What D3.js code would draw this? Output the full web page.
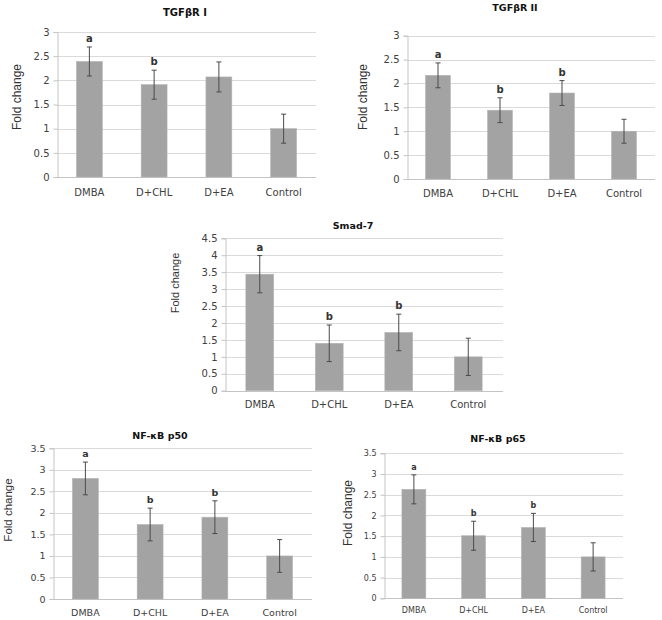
<!DOCTYPE html>
<html>
<head>
<meta charset="utf-8">
<script src="https://cdn.jsdelivr.net/npm/d3@7"></script>
<style>
  html, body { margin: 0; padding: 0; background: #fff; }
  svg { display: block; }
  .tick-lbl { font-family: "DejaVu Sans", Verdana, sans-serif; fill: #404040; }
  .ttl { font-family: "DejaVu Sans", Verdana, sans-serif; font-weight: bold; fill: #111; }
  .ylab { font-family: "Liberation Sans", Arial, sans-serif; fill: #333; }
  .sig { font-family: "DejaVu Sans", Verdana, sans-serif; font-weight: bold; fill: #333; }
</style>
</head>
<body>
<svg id="chart" width="662" height="620"></svg>
<script>
/* five fold-change bar panels */

const categories = ['DMBA', 'D+CHL', 'D+EA', 'Control'];

const tgfr1Values = [2.39, 1.91, 2.07, 1.00];
const tgfr1Errors = [0.30, 0.30, 0.31, 0.30];
const tgfr1Letters = ['a', 'b', '', ''];
const tgfr1Ticks = [0, 0.5, 1, 1.5, 2, 2.5, 3];

const tgfr2Values = [2.17, 1.44, 1.80, 1.00];
const tgfr2Errors = [0.26, 0.26, 0.26, 0.25];
const tgfr2Letters = ['a', 'b', 'b', ''];
const tgfr2Ticks = [0, 0.5, 1, 1.5, 2, 2.5, 3];

const smadValues = [3.44, 1.40, 1.72, 1.00];
const smadErrors = [0.55, 0.54, 0.54, 0.55];
const smadLetters = ['a', 'b', 'b', ''];
const smadTicks = [0, 0.5, 1, 1.5, 2, 2.5, 3, 3.5, 4, 4.5];

const p50Values = [2.80, 1.73, 1.90, 1.00];
const p50Errors = [0.38, 0.38, 0.38, 0.38];
const p50Letters = ['a', 'b', 'b', ''];
const p50Ticks = [0, 0.5, 1, 1.5, 2, 2.5, 3, 3.5];

const p65Values = [2.63, 1.51, 1.71, 1.00];
const p65Errors = [0.35, 0.35, 0.34, 0.34];
const p65Letters = ['a', 'b', 'b', ''];
const p65Ticks = [0, 0.5, 1, 1.5, 2, 2.5, 3, 3.5];

const svg = d3.select('#chart');

function panel(o) {
  const g = svg.append('g');
  const yMax = o.ticks[o.ticks.length - 1];
  const x = d3.scaleBand().domain(categories).range([o.x0, o.x1])
    .paddingInner(0.6).paddingOuter(0.3);
  const y = d3.scaleLinear().domain([0, yMax]).range([o.y0, o.yTop]);

  // grid
  g.selectAll('.grid').data(o.ticks.filter(t => t > 0)).join('line')
    .attr('x1', o.x0).attr('x2', o.x1)
    .attr('y1', t => Math.round(y(t)) + 0.5).attr('y2', t => Math.round(y(t)) + 0.5)
    .attr('stroke', '#dadada').attr('stroke-width', 1);

  // left axis
  const ya = d3.axisLeft(y).tickValues(o.ticks).tickSize(4).tickPadding(4)
    .tickFormat(d => String(d));
  const yg = g.append('g').attr('transform', `translate(${Math.round(o.x0) + 0.5},0)`).call(ya);
  yg.select('.domain').attr('stroke', '#c4c4c4');
  yg.selectAll('.tick line').attr('stroke', '#c4c4c4');
  yg.selectAll('.tick text').attr('class', 'tick-lbl').attr('font-size', o.fs)
    .attr('fill', '#404040');
  yg.attr('font-family', null).attr('font-size', null);

  // bottom baseline
  g.append('line').attr('x1', o.x0).attr('x2', o.x1)
    .attr('y1', Math.round(y(0)) + 0.5).attr('y2', Math.round(y(0)) + 0.5)
    .attr('stroke', '#c4c4c4');

  // bars
  g.selectAll('.bar').data(o.values).join('rect')
    .attr('x', (d, i) => x(categories[i]))
    .attr('width', x.bandwidth())
    .attr('y', d => y(d))
    .attr('height', d => y(0) - y(d))
    .attr('fill', '#a3a3a3')
    .attr('stroke', '#b4b4b4').attr('stroke-width', 0.6);

  // error bars
  const cx = i => x(categories[i]) + x.bandwidth() / 2;
  const cap = 2.5;
  const eb = g.selectAll('.err').data(o.values).join('g').attr('stroke', '#4a4a4a').attr('stroke-width', 1);
  eb.append('line').attr('x1', (d, i) => cx(i)).attr('x2', (d, i) => cx(i))
    .attr('y1', (d, i) => y(d + o.errors[i])).attr('y2', (d, i) => y(d - o.errors[i]));
  eb.append('line').attr('x1', (d, i) => cx(i) - cap).attr('x2', (d, i) => cx(i) + cap)
    .attr('y1', (d, i) => y(d + o.errors[i])).attr('y2', (d, i) => y(d + o.errors[i]));
  eb.append('line').attr('x1', (d, i) => cx(i) - cap).attr('x2', (d, i) => cx(i) + cap)
    .attr('y1', (d, i) => y(d - o.errors[i])).attr('y2', (d, i) => y(d - o.errors[i]));

  // significance letters
  g.selectAll('.sig').data(o.values).join('text')
    .attr('class', 'sig').attr('font-size', o.fs)
    .attr('text-anchor', 'middle')
    .attr('x', (d, i) => cx(i))
    .attr('y', (d, i) => y(d + o.errors[i]) - 5)
    .text((d, i) => o.letters[i]);

  // category labels
  g.selectAll('.xl').data(categories).join('text')
    .attr('class', 'tick-lbl').attr('font-size', o.fs)
    .attr('text-anchor', 'middle')
    .attr('x', d => x(d) + x.bandwidth() / 2)
    .attr('y', o.xLabY)
    .text(d => d);

  // title
  g.append('text').attr('class', 'ttl').attr('font-size', o.tfs)
    .attr('text-anchor', 'middle').attr('x', o.tx).attr('y', o.ty)
    .text(o.title);

  // y label
  g.append('text').attr('class', 'ylab').attr('font-size', o.yfs)
    .attr('text-anchor', 'middle')
    .attr('transform', `translate(${o.ylx},${o.yly}) rotate(-90)`)
    .text('Fold change');
}

panel({ title: 'TGFβR I', values: tgfr1Values, errors: tgfr1Errors, letters: tgfr1Letters, ticks: tgfr1Ticks,
  x0: 57, x1: 316, yTop: 32, y0: 177, tx: 185, ty: 15.5, ylx: 21, yly: 97, xLabY: 196, fs: 10, tfs: 10, yfs: 12 });
panel({ title: 'TGFβR  II', values: tgfr2Values, errors: tgfr2Errors, letters: tgfr2Letters, ticks: tgfr2Ticks,
  x0: 407, x1: 655, yTop: 35.7, y0: 179, tx: 515, ty: 11, ylx: 367, yly: 97, xLabY: 197, fs: 10, tfs: 9.5, yfs: 12 });
panel({ title: 'Smad-7', values: smadValues, errors: smadErrors, letters: smadLetters, ticks: smadTicks,
  x0: 225, x1: 503, yTop: 238.3, y0: 390.7, tx: 353, ty: 229, ylx: 179, yly: 283, xLabY: 408, fs: 10, tfs: 9.5, yfs: 11 });
panel({ title: 'NF-κB p50', values: p50Values, errors: p50Errors, letters: p50Letters, ticks: p50Ticks,
  x0: 53, x1: 312, yTop: 448.3, y0: 599, tx: 160, ty: 439, ylx: 12, yly: 510, xLabY: 616, fs: 9.5, tfs: 9.5, yfs: 11.5 });
panel({ title: 'NF-κB p65', values: p65Values, errors: p65Errors, letters: p65Letters, ticks: p65Ticks,
  x0: 384, x1: 623, yTop: 453.3, y0: 598.3, tx: 498, ty: 442, ylx: 352, yly: 513, xLabY: 613, fs: 8, tfs: 9.5, yfs: 12 });
</script>
</body>
</html>
